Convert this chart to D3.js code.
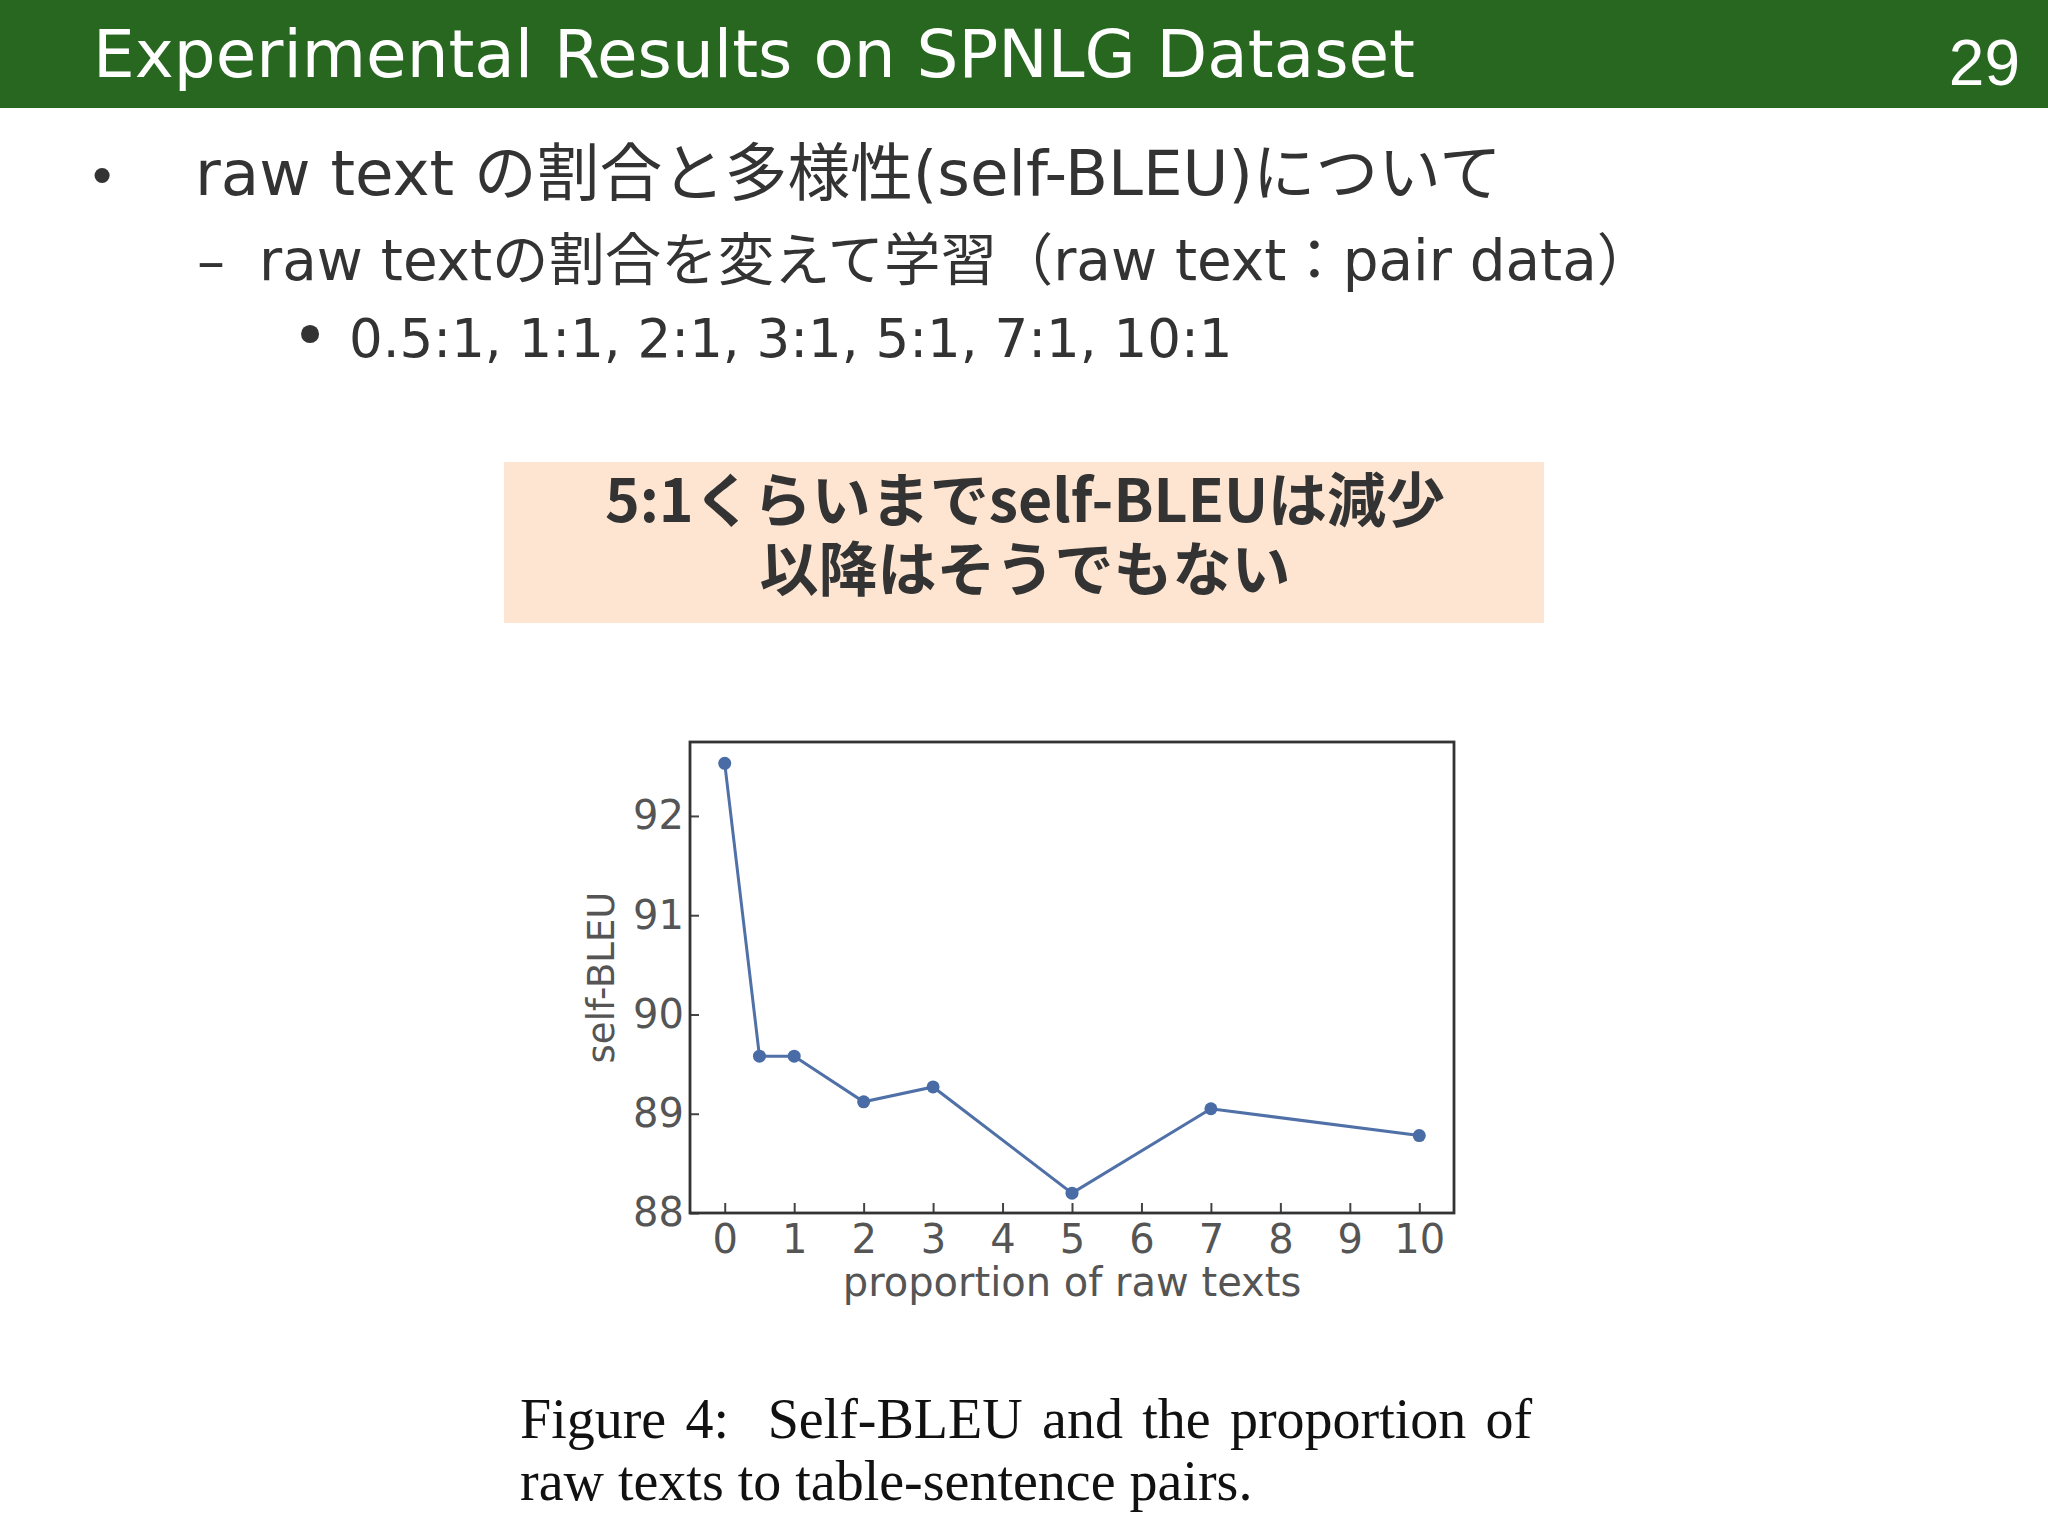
<!DOCTYPE html>
<html>
<head>
<meta charset="UTF-8">
<title>Experimental Results on SPNLG Dataset</title>
<script src="https://cdn.jsdelivr.net/npm/d3@7"></script>
<style>
  body { margin: 0; background: #fff; }
  svg { display: block; }
</style>
</head>
<body>
<script>
// data
var ratios = [0, 0.5, 1, 2, 3, 5, 7, 10];
var selfBleu = [92.53, 89.58, 89.58, 89.12, 89.27, 88.2, 89.05, 88.78];
var xTicks = [0, 1, 2, 3, 4, 5, 6, 7, 8, 9, 10];
var yTicks = [88, 89, 90, 91, 92];

var W = 2048, H = 1536;
var sans = "'DejaVu Sans', 'Noto Sans CJK JP', sans-serif";
var ink = "#333";

var svg = d3.select("body").append("svg")
    .attr("width", W)
    .attr("height", H);

// header bar
svg.append("rect")
    .attr("x", 0).attr("y", 0)
    .attr("width", W).attr("height", 108)
    .attr("fill", "#27671f");
svg.append("text")
    .attr("x", 93).attr("y", 77)
    .attr("font-family", sans)
    .attr("font-size", 66)
    .attr("fill", "#fff")
    .text("Experimental Results on SPNLG Dataset");
svg.append("text")
    .attr("x", 2020).attr("y", 85)
    .attr("text-anchor", "end")
    .attr("font-family", "'Liberation Sans', Arial, sans-serif")
    .attr("font-size", 64)
    .attr("fill", "#fff")
    .text("29");

// bullets
var bullets = svg.append("g").attr("font-family", sans).attr("fill", ink);
bullets.append("text").attr("x", 102).attr("y", 195).attr("text-anchor", "middle")
    .attr("font-size", 52).text("•");
bullets.append("text").attr("x", 195).attr("y", 195).attr("font-size", 62.7)
    .text("raw text の割合と多様性(self-BLEU)について");
bullets.append("text").attr("x", 211).attr("y", 280).attr("text-anchor", "middle")
    .attr("font-size", 56).text("–");
bullets.append("text").attr("x", 259).attr("y", 280).attr("font-size", 56.4)
    .text("raw textの割合を変えて学習（raw text：pair data）");
bullets.append("text").attr("x", 310).attr("y", 357).attr("text-anchor", "middle")
    .attr("font-size", 62).text("•");
bullets.append("text").attr("x", 349).attr("y", 357).attr("font-size", 53)
    .text("0.5:1, 1:1, 2:1, 3:1, 5:1, 7:1, 10:1");

// note box
svg.append("rect")
    .attr("x", 504).attr("y", 462)
    .attr("width", 1040).attr("height", 161)
    .attr("fill", "#fde5d2");
var note = svg.append("g")
    .attr("font-family", "'Noto Sans CJK JP', sans-serif")
    .attr("font-weight", "bold")
    .attr("font-size", 59)
    .attr("fill", ink)
    .attr("text-anchor", "middle");
note.append("text").attr("x", 1025).attr("y", 522).text("5:1くらいまでself-BLEUは減少");
note.append("text").attr("x", 1025).attr("y", 591).text("以降はそうでもない");

// chart
var plot = {left: 690, right: 1454, top: 742, bottom: 1213};

var x = d3.scaleLinear().domain([-0.5, 10.5]).range([plot.left, plot.right]);
var y = d3.scaleLinear().domain([88, 92.745]).range([plot.bottom, plot.top]);

var chart = svg.append("g");

var xAxis = chart.append("g")
    .attr("transform", "translate(0," + plot.bottom + ")")
    .call(d3.axisBottom(x).tickValues(xTicks).tickFormat(d3.format("d"))
        .tickSizeInner(-10).tickSizeOuter(0).tickPadding(12));
var yAxis = chart.append("g")
    .attr("transform", "translate(" + plot.left + ",0)")
    .call(d3.axisLeft(y).tickValues(yTicks).tickFormat(d3.format("d"))
        .tickSizeInner(-9).tickSizeOuter(0).tickPadding(6));

[xAxis, yAxis].forEach(function(a) {
    a.select(".domain").remove();
    a.selectAll(".tick line").attr("stroke", "#444").attr("stroke-width", 2);
    a.selectAll(".tick text")
        .attr("font-family", sans)
        .attr("font-size", 40)
        .attr("fill", "#555");
});

chart.append("rect")
    .attr("x", plot.left).attr("y", plot.top)
    .attr("width", plot.right - plot.left)
    .attr("height", plot.bottom - plot.top)
    .attr("fill", "none")
    .attr("stroke", "#333")
    .attr("stroke-width", 2.8);

var pts = ratios.map(function(r, i) { return [r, selfBleu[i]]; });

chart.append("path")
    .datum(pts)
    .attr("fill", "none")
    .attr("stroke", "#5070a8")
    .attr("stroke-width", 3)
    .attr("d", d3.line().x(function(d) { return x(d[0]); }).y(function(d) { return y(d[1]); }));

chart.selectAll("circle.pt")
    .data(pts)
    .enter().append("circle")
    .attr("class", "pt")
    .attr("cx", function(d) { return x(d[0]); })
    .attr("cy", function(d) { return y(d[1]); })
    .attr("r", 6.5)
    .attr("fill", "#4a6ca6");

chart.append("text")
    .attr("x", (plot.left + plot.right) / 2)
    .attr("y", 1296)
    .attr("text-anchor", "middle")
    .attr("font-family", sans)
    .attr("font-size", 40)
    .attr("fill", "#555")
    .text("proportion of raw texts");

chart.append("text")
    .attr("transform", "translate(614," + (plot.top + plot.bottom) / 2 + ") rotate(-90)")
    .attr("text-anchor", "middle")
    .attr("font-family", sans)
    .attr("font-size", 37)
    .attr("fill", "#555")
    .text("self-BLEU");

// figure caption
var cap = svg.append("g")
    .attr("font-family", "'Liberation Serif', 'Times New Roman', serif")
    .attr("font-size", 56)
    .attr("fill", "#111");
cap.append("text").attr("x", 520).attr("y", 1438)
    .attr("word-spacing", 5.3)
    .style("white-space", "pre")
    .text("Figure 4:  Self-BLEU and the proportion of");
cap.append("text").attr("x", 520).attr("y", 1500)
    .text("raw texts to table-sentence pairs.");
</script>
</body>
</html>
